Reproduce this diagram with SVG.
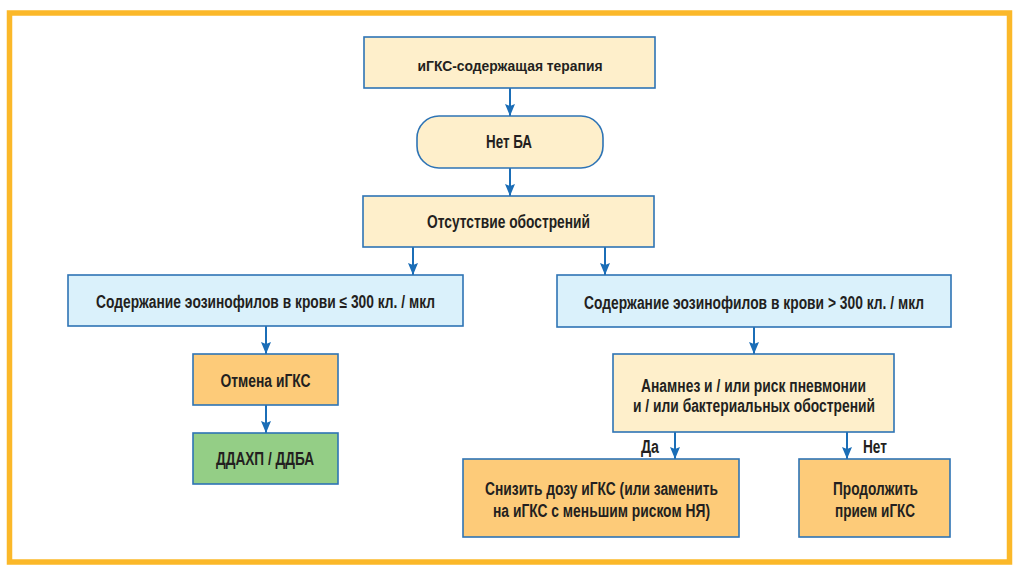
<svg xmlns="http://www.w3.org/2000/svg" width="1024" height="574" viewBox="0 0 1024 574">
<style>
.box{stroke:#2E74B5;stroke-width:1.6}
.beige{fill:#FEEFCB}
.blue{fill:#DAF1FB}
.orange{fill:#FDCB79}
.green{fill:#94CE86}
.t{font-family:"Liberation Sans",Arial,sans-serif;font-weight:bold;font-size:17.5px;fill:#231F20;text-anchor:middle}
.s{font-size:15px}
.c{stroke:#1B6EB7;stroke-width:2;fill:none;marker-end:url(#ah)}
</style>
<defs>
<marker id="ah" markerUnits="userSpaceOnUse" viewBox="0 0 12 10" markerWidth="12" markerHeight="10" refX="12" refY="5" orient="auto">
<path d="M0,0 L12,5 L0,10 L2,5 Z" fill="#1B6EB7"/>
</marker>
</defs>
<rect x="0" y="0" width="1024" height="574" fill="#FFFFFF"/>
<rect id="frame" x="9.5" y="13" width="1000" height="549" fill="none" stroke="#FBB829" stroke-width="5.5"/>
<g id="connectors">
<line class="c" x1="510" y1="88" x2="510" y2="116"/>
<line class="c" x1="510" y1="168" x2="510" y2="196"/>
<line class="c" x1="413" y1="247" x2="413" y2="275"/>
<line class="c" x1="605" y1="247" x2="605" y2="275"/>
<line class="c" x1="266" y1="326" x2="266" y2="354"/>
<line class="c" x1="266" y1="405" x2="266" y2="433"/>
<line class="c" x1="754" y1="327" x2="754" y2="354"/>
<line class="c" x1="675" y1="432" x2="675" y2="459"/>
<line class="c" x1="847" y1="432" x2="847" y2="459"/>
<text class="t" x="650" y="452.5" textLength="18" lengthAdjust="spacingAndGlyphs">Да</text>
<text class="t" x="875" y="453" textLength="24" lengthAdjust="spacingAndGlyphs">Нет</text>
</g>
<g id="n1">
<rect class="box beige" x="364" y="37" width="291" height="51"/>
<text class="t s" x="510" y="70.5" textLength="185" lengthAdjust="spacingAndGlyphs">иГКС-содержащая терапия</text>
</g>
<g id="n2">
<rect class="box beige" x="417" y="116" width="186" height="52" rx="22" ry="22"/>
<text class="t" x="509" y="148" textLength="46" lengthAdjust="spacingAndGlyphs">Нет БА</text>
</g>
<g id="n3">
<rect class="box beige" x="363" y="196" width="291" height="51"/>
<text class="t" x="508.5" y="228" textLength="163" lengthAdjust="spacingAndGlyphs">Отсутствие обострений</text>
</g>
<g id="n4">
<rect class="box blue" x="68" y="275" width="395" height="51"/>
<text class="t" x="265.5" y="307.5" textLength="339" lengthAdjust="spacingAndGlyphs">Содержание эозинофилов в крови ≤ 300 кл. / мкл</text>
</g>
<g id="n5">
<rect class="box blue" x="557" y="275" width="394" height="52"/>
<text class="t" x="754" y="309" textLength="340" lengthAdjust="spacingAndGlyphs">Содержание эозинофилов в крови &gt; 300 кл. / мкл</text>
</g>
<g id="n6">
<rect class="box orange" x="193" y="354" width="145" height="51"/>
<text class="t" x="265.5" y="386.5" textLength="90" lengthAdjust="spacingAndGlyphs">Отмена иГКС</text>
</g>
<g id="n7">
<rect class="box green" x="193" y="433" width="145" height="51"/>
<text class="t" x="265" y="465" textLength="98" lengthAdjust="spacingAndGlyphs">ДДАХП / ДДБА</text>
</g>
<g id="n8">
<rect class="box beige" x="613" y="354" width="281" height="78"/>
<text class="t" x="753.5" y="391.5" textLength="225" lengthAdjust="spacingAndGlyphs">Анамнез и / или риск пневмонии</text>
<text class="t" x="754" y="411.5" textLength="242" lengthAdjust="spacingAndGlyphs">и / или бактериальных обострений</text>
</g>
<g id="n9">
<rect class="box orange" x="463" y="459" width="276" height="78"/>
<text class="t" x="601.5" y="495" textLength="233" lengthAdjust="spacingAndGlyphs">Снизить дозу иГКС (или заменить</text>
<text class="t" x="601.5" y="517" textLength="217" lengthAdjust="spacingAndGlyphs">на иГКС с меньшим риском НЯ)</text>
</g>
<g id="n10">
<rect class="box orange" x="799" y="459" width="151" height="78"/>
<text class="t" x="875.5" y="495" textLength="85" lengthAdjust="spacingAndGlyphs">Продолжить</text>
<text class="t" x="875" y="517" textLength="80" lengthAdjust="spacingAndGlyphs">прием иГКС</text>
</g>
</svg>
